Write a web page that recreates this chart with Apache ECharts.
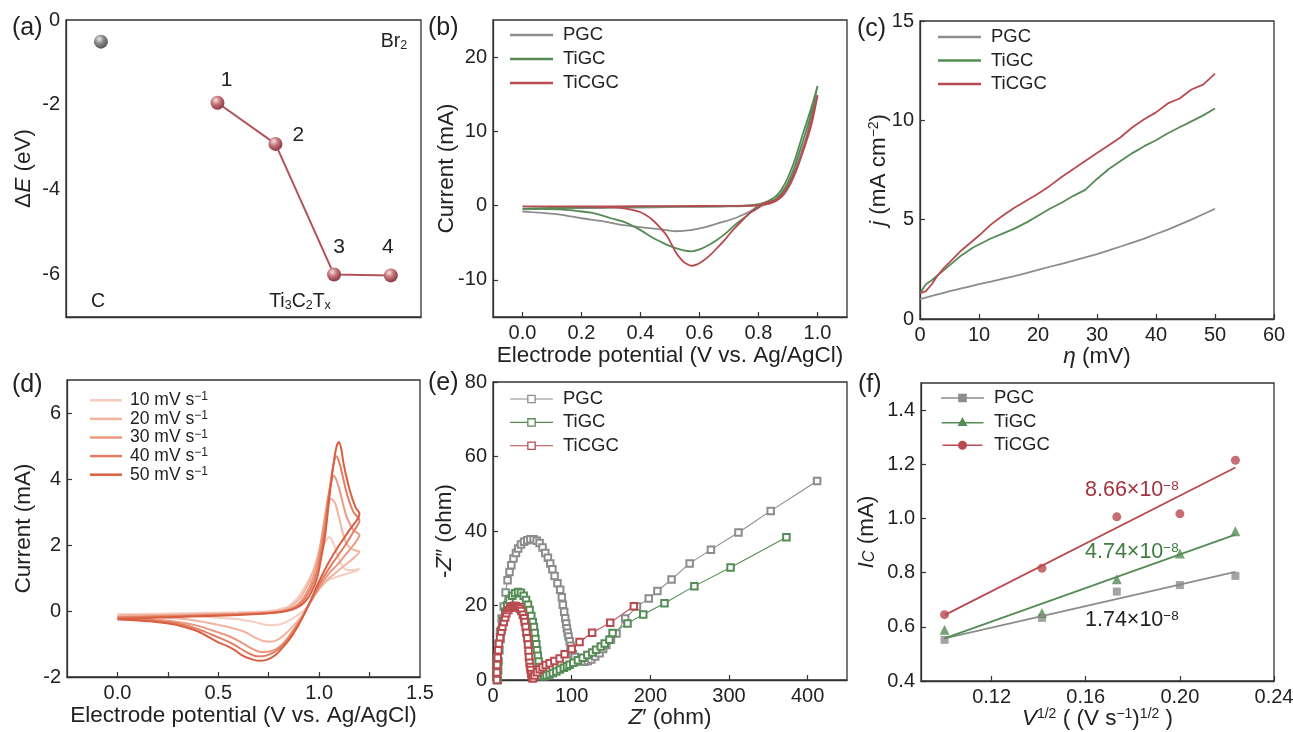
<!DOCTYPE html>
<html><head><meta charset="utf-8">
<script src="https://cdn.jsdelivr.net/npm/echarts@6/dist/echarts.min.js"></script>
<style>html,body{margin:0;padding:0;background:#fff}#c{width:1293px;height:732px}</style>
</head><body><div id="c"></div><script>
// ---------- DATA ----------
// (a) adsorption energies
const aCX = [0.59], aCY = [-0.51];
const aX = [2.56, 3.54, 4.53, 5.49];
const aY = [-1.95, -2.92, -6.0, -6.02];
const aNums = ['1', '2', '3', '4'];
const aYTicks = [0, -2, -4, -6];

// (b) CV curves [E, I]
const bPGC = [[0,-0.5],[0.1,-0.4],[0.2,-0.35],[0.3,-0.3],[0.4,-0.25],[0.5,-0.2],[0.6,-0.15],[0.7,-0.1],[0.75,-0.05],[0.8,0.1],[0.84,0.5],[0.87,1.2],[0.9,2.8],[0.93,5.5],[0.96,9],[0.98,12],[1.0,14.8],
  [0.97,10],[0.94,6],[0.91,3],[0.88,1.2],[0.85,0.5],[0.82,0.1],[0.8,-0.2],[0.76,-1.0],[0.72,-1.7],[0.67,-2.3],[0.62,-2.9],[0.57,-3.3],[0.52,-3.45],[0.47,-3.2],[0.42,-3.0],[0.37,-2.75],[0.33,-2.55],[0.27,-2.1],[0.2,-1.7],[0.127,-1.2],[0.06,-0.95],[0,-0.8]];
const bTiGC = [[0,-0.4],[0.1,-0.3],[0.2,-0.25],[0.3,-0.2],[0.4,-0.15],[0.5,-0.1],[0.6,-0.1],[0.7,-0.05],[0.78,0.05],[0.82,0.4],[0.86,1.3],[0.89,3],[0.92,5.8],[0.95,9.6],[0.98,13.3],[1.0,16.1],
  [0.98,12.5],[0.95,8.6],[0.92,5.0],[0.89,2.4],[0.86,0.9],[0.83,0.3],[0.805,0.1],[0.78,-0.6],[0.76,-1.4],[0.72,-2.6],[0.69,-3.7],[0.66,-4.6],[0.636,-5.2],[0.6,-5.9],[0.573,-6.15],[0.54,-5.95],[0.51,-5.6],[0.47,-4.9],[0.44,-4.3],[0.4,-3.3],[0.35,-2.3],[0.3,-1.7],[0.24,-1.0],[0.18,-0.7],[0.127,-0.5],[0.06,-0.45],[0,-0.4]];
const bTiCGC = [[0,-0.1],[0.2,-0.1],[0.4,-0.08],[0.6,-0.05],[0.75,-0.02],[0.8,0.05],[0.84,0.3],[0.87,0.9],[0.9,2.5],[0.93,5.0],[0.96,8.6],[0.98,11.5],[1.0,14.9],
  [0.98,11],[0.95,7.2],[0.92,4.2],[0.89,2.0],[0.86,0.8],[0.82,0.36],[0.8,-0.3],[0.77,-1.0],[0.745,-2.0],[0.715,-3.2],[0.69,-4.4],[0.66,-5.7],[0.635,-6.7],[0.61,-7.5],[0.59,-7.95],[0.573,-8.1],[0.55,-7.7],[0.535,-7.1],[0.52,-6.3],[0.505,-5.2],[0.49,-4.1],[0.465,-2.9],[0.44,-1.9],[0.415,-1.2],[0.39,-0.75],[0.35,-0.4],[0.3,-0.2],[0.2,-0.12],[0.1,-0.1],[0,-0.1]];
const bXTicks = [0, 0.2, 0.4, 0.6, 0.8, 1.0];
const bYTicks = [-10, 0, 10, 20];

// (c) polarization
const cX = [0,1,2,3,4,5,6,7,8,9,10,12,14,16,18,20,22,24,26,28,30,32,34,36,38,40,42,44,46,48,50];
const cPGC = [1.0,1.08,1.16,1.24,1.32,1.4,1.47,1.54,1.61,1.68,1.75,1.88,2.02,2.16,2.31,2.47,2.63,2.78,2.94,3.1,3.27,3.45,3.65,3.84,4.05,4.28,4.5,4.75,5.0,5.27,5.55];
const cTiGC = [1.3,1.75,1.95,2.2,2.45,2.7,2.95,3.2,3.4,3.6,3.75,4.05,4.3,4.55,4.85,5.2,5.55,5.85,6.2,6.5,7.05,7.55,7.95,8.35,8.7,9.0,9.35,9.65,9.95,10.25,10.6];
const cTiCGC = [1.3,1.4,1.75,2.2,2.55,2.85,3.15,3.45,3.7,3.95,4.2,4.75,5.2,5.6,5.95,6.3,6.7,7.15,7.55,7.95,8.35,8.75,9.15,9.65,10.05,10.4,10.85,11.1,11.55,11.8,12.35];

// (d) CV at scan rates
const dNames = ['10 mV s-1', '20 mV s-1', '30 mV s-1', '40 mV s-1', '50 mV s-1'];
const d10 = [[0,-0.1],[0.1,-0.09],[0.2,-0.08],[0.3,-0.07],[0.4,-0.06],[0.5,-0.05],[0.6,-0.04],[0.7,-0.02],[0.75,0.0],[0.8,0.05],[0.85,0.15],[0.9,0.45],[0.94,0.85],[0.97,1.2],[1.0,1.6],[1.02,1.95],[1.04,2.18],[1.05,2.24],[1.06,2.18],[1.08,1.9],[1.1,1.55],[1.12,1.32],[1.14,1.24],[1.17,1.24],[1.2,1.28],
  [1.18,1.2],[1.15,1.15],[1.12,1.1],[1.08,1.02],[1.05,0.95],[1.02,0.8],[0.99,0.6],[0.96,0.3],[0.93,0.05],[0.9,-0.1],[0.87,-0.22],[0.83,-0.35],[0.8,-0.41],[0.76,-0.43],[0.72,-0.4],[0.68,-0.33],[0.62,-0.27],[0.55,-0.23],[0.45,-0.18],[0.35,-0.15],[0.2,-0.13],[0.1,-0.12],[0,-0.11]];
const d20 = [[0,-0.14],[0.2,-0.12],[0.4,-0.1],[0.6,-0.07],[0.75,-0.03],[0.8,0.0],[0.85,0.1],[0.9,0.35],[0.94,0.75],[0.97,1.2],[1.0,1.85],[1.02,2.5],[1.04,3.1],[1.06,3.4],[1.08,3.25],[1.1,2.8],[1.12,2.3],[1.14,2.0],[1.17,1.85],[1.2,1.8],
  [1.17,1.6],[1.13,1.4],[1.09,1.2],[1.05,1.0],[1.01,0.75],[0.98,0.5],[0.95,0.2],[0.92,-0.1],[0.88,-0.4],[0.84,-0.65],[0.8,-0.85],[0.76,-0.93],[0.72,-0.9],[0.68,-0.8],[0.63,-0.63],[0.56,-0.5],[0.5,-0.42],[0.4,-0.3],[0.3,-0.23],[0.2,-0.2],[0.1,-0.17],[0,-0.16]];
const d30 = [[0,-0.18],[0.2,-0.15],[0.4,-0.12],[0.6,-0.09],[0.75,-0.05],[0.82,0.0],[0.87,0.1],[0.91,0.3],[0.95,0.7],[0.98,1.2],[1.0,1.7],[1.02,2.5],[1.04,3.3],[1.06,3.9],[1.07,4.1],[1.08,4.05],[1.1,3.7],[1.12,3.2],[1.14,2.8],[1.17,2.45],[1.2,2.3],
  [1.17,2.0],[1.13,1.7],[1.09,1.4],[1.05,1.15],[1.01,0.8],[0.98,0.5],[0.95,0.2],[0.92,-0.15],[0.88,-0.5],[0.84,-0.85],[0.8,-1.1],[0.76,-1.22],[0.71,-1.24],[0.67,-1.15],[0.62,-0.97],[0.56,-0.78],[0.5,-0.65],[0.4,-0.45],[0.3,-0.33],[0.2,-0.27],[0.1,-0.23],[0,-0.21]];
const d40 = [[0,-0.2],[0.2,-0.17],[0.4,-0.14],[0.6,-0.1],[0.75,-0.06],[0.83,0.0],[0.88,0.1],[0.92,0.3],[0.96,0.7],[0.99,1.2],[1.01,1.8],[1.03,2.6],[1.05,3.6],[1.07,4.4],[1.085,4.69],[1.1,4.5],[1.12,4.0],[1.14,3.5],[1.17,3.0],[1.2,2.75],
  [1.17,2.4],[1.13,2.0],[1.09,1.65],[1.05,1.3],[1.01,0.9],[0.98,0.55],[0.95,0.2],[0.92,-0.15],[0.88,-0.55],[0.84,-0.9],[0.8,-1.15],[0.76,-1.3],[0.72,-1.37],[0.69,-1.37],[0.65,-1.28],[0.6,-1.1],[0.55,-0.93],[0.5,-0.8],[0.4,-0.55],[0.3,-0.38],[0.2,-0.3],[0.1,-0.26],[0,-0.23]];
const d50 = [[0,-0.24],[0.2,-0.2],[0.4,-0.16],[0.6,-0.12],[0.75,-0.07],[0.84,0.0],[0.89,0.1],[0.93,0.28],[0.96,0.55],[0.99,1.0],[1.01,1.6],[1.03,2.3],[1.05,3.4],[1.07,4.4],[1.085,4.95],[1.098,5.12],[1.11,4.9],[1.12,4.5],[1.15,3.7],[1.18,3.15],[1.2,2.95],
  [1.15,2.45],[1.1,2.0],[1.05,1.5],[1.0,0.9],[0.96,0.35],[0.93,-0.05],[0.9,-0.4],[0.86,-0.8],[0.82,-1.1],[0.78,-1.35],[0.74,-1.48],[0.7,-1.51],[0.66,-1.45],[0.62,-1.35],[0.58,-1.18],[0.54,-1.05],[0.5,-0.95],[0.4,-0.62],[0.3,-0.43],[0.2,-0.34],[0.1,-0.29],[0,-0.26]];
const dXLabels = [0, 0.5, 1.0, 1.5];
const dXTicks = [0, 0.25, 0.5, 0.75, 1.0, 1.25];
const dYTicks = [-2, 0, 2, 4, 6];

// (e) Nyquist [Z', -Z'']
const ePGC = [[5,0],[5.5,3],[6,6],[7,9.5],[9,13],[11,16.5],[13.6,19.7],[16,23.5],[18.5,26.8],[21,29],[23.3,30.8],[26,32.6],[29.2,34.1],[32,35.3],[35.6,36.4],[39.5,37.1],[43.6,37.5],[47.5,37.8],[51.6,37.8],[55.5,37.4],[59.2,36.8],[63,35.6],[66.5,34.1],[69.8,32.8],[72.8,31.3],[75.5,29.7],[78.3,27.9],[82,26],[85.4,24.2],[87.5,22.2],[88.8,20.2],[90.5,18.3],[91.8,16.6],[93,15.2],[93.9,13.9],[95,12.7],[96,11.7],[97.5,10.4],[98.6,9.2],[100,8.1],[101.6,7.0],[104,6.2],[108,5.1],[112,4.9],[116.4,4.9],[120.5,5.1],[125,5.5],[130,6.3],[135.5,7.2],[140,8.3],[144,9.4],[150,10.9],[157,12.5],[168,16.5],[183,19.7],[198,21.9],[209,23.9],[227,27],[250,31.3],[277,35],[312,39.6],[353,45.4],[412,53.4]];
const eTiGC = [[6,0],[6.5,2.5],[7,5],[8,8],[9.5,11],[11,13.5],[13,16],[15.5,18.3],[18,20],[21,21.5],[24.5,22.6],[28,23.3],[31.8,23.6],[35.5,23.4],[39,22.6],[42,21.5],[44.5,20.2],[46.5,18.8],[48.7,17.2],[50.5,15.6],[52,14.2],[53,12.6],[54,11],[55,9.6],[56,8],[57,6.5],[58,5],[58.8,3.5],[59.5,2.3],[60.2,1.5],[62,1.0],[65,1.0],[68,1.2],[72,1.5],[76,1.9],[80.5,2.3],[85,2.8],[90,3.3],[94,3.7],[97.4,4.1],[102,4.6],[108,5.3],[114,6.0],[120,6.7],[126,7.4],[131,8.1],[137,9.0],[142,9.8],[148,10.8],[152,12.6],[171,15.2],[191,17.6],[218,20.6],[256,25.2],[302,30.2],[373,38.3]];
const eTiCGC = [[5,0],[5,2],[5.3,4],[6,6],[6.8,8],[7.6,9.8],[9,11.5],[10.5,13],[11.9,14.3],[13.8,15.6],[15.5,16.8],[17,17.9],[19.5,18.8],[22,19.4],[24.6,19.8],[27,19.9],[29.5,19.8],[32,19.5],[34,19.1],[36,18.5],[38,17.5],[39.5,16.6],[40.3,15.6],[41.5,14.2],[42.5,12.7],[43.7,11.2],[44.5,9.5],[45.2,7.8],[45.7,6.2],[46.5,4.6],[47.2,3.5],[47.9,2.7],[48.7,1.6],[49.5,0.9],[50,0.5],[51,0.5],[53,1.2],[56,2.1],[59.3,2.9],[63,3.4],[67,4.0],[72,4.5],[78,5.1],[84.7,5.8],[91,6.9],[100,8.3],[110,10.2],[126,12.7],[149,15.4],[179,19.8]];
const eXLabels = [0, 100, 200, 300, 400];

// (f) double-layer current vs sqrt(scan rate)
const fX = [0.1, 0.1414, 0.1732, 0.2, 0.2236];
const fPGC = [0.552, 0.633, 0.730, 0.754, 0.788];
const fTiGC = [0.589, 0.651, 0.776, 0.871, 0.953];
const fTiCGC = [0.645, 0.816, 1.006, 1.017, 1.215];
const fFitX = [0.1, 0.2236];
const fFitPGC = [0.557, 0.803];
const fFitTiGC = [0.557, 0.940];
const fFitTiCGC = [0.643, 1.188];
const fSlopes = ['8.66×10', '4.74×10', '1.74×10'];
const fXTicks = [0.12, 0.16, 0.20, 0.24];
const fYTicks = [0.4, 0.6, 0.8, 1.0, 1.2, 1.4];

// ---------- STYLE ----------
const FONT = '"Liberation Sans", Arial, Helvetica, sans-serif';
const GRAY = '#8c8c8c', GREEN = '#558c55', RED = '#b84b50';
const DCOL = ['#f5cdbf', '#f0b49f', '#ea9a81', '#e27e62', '#d95f42'];
const TXT = '#222';
const NAMESIZE = 22.5;
const RICH = {
  i: {fontStyle: 'italic', fontSize: NAMESIZE, fontFamily: FONT, color: TXT},
  ic: {fontStyle: 'italic', fontSize: 16, fontFamily: FONT, color: TXT, verticalAlign: 'bottom', lineHeight: 21},
  sup: {fontSize: 14, fontFamily: FONT, color: TXT, verticalAlign: 'top', lineHeight: 14}
};
const LRICH = {sup: {fontSize: 12, fontFamily: FONT, color: TXT, verticalAlign: 'top', lineHeight: 12}};
const grids = [
  {left: 66, top: 20, width: 355, height: 297},
  {left: 493, top: 20, width: 354, height: 297},
  {left: 920, top: 21, width: 354, height: 298},
  {left: 67, top: 380, width: 353, height: 297},
  {left: 493, top: 382, width: 354, height: 298},
  {left: 921, top: 383, width: 353, height: 298}
].map(g => Object.assign({show: true, borderColor: '#333', borderWidth: 1.3, outerBoundsMode: 'none', containLabel: false}, g));

function axis(o) {
  const a = {
    type: 'value', gridIndex: o.g, min: o.min, max: o.max, scale: true,
    splitLine: {show: false},
    axisLine: {show: true, onZero: false, lineStyle: {color: '#333', width: 1.3}},
    axisTick: {show: o.ticks !== false, inside: true, length: 5, lineStyle: {color: '#333', width: 1.2}},
    axisLabel: {show: o.labels !== false, color: TXT, fontSize: 20, fontFamily: FONT, margin: 6, hideOverlap: false,
      showMinLabel: true, showMaxLabel: true},
    name: o.name || '', nameLocation: 'middle', nameGap: o.gap || 28, nameMoveOverlap: false,
    nameTextStyle: {color: TXT, fontSize: NAMESIZE, fontFamily: FONT, rich: RICH}
  };
  if (o.interval) a.interval = o.interval;
  if (o.labelVals) a.axisLabel.customValues = o.labelVals;
  if (o.tickVals) a.axisTick.customValues = o.tickVals;
  if (o.fmt) a.axisLabel.formatter = o.fmt;
  return a;
}
const f1 = v => Number(v).toFixed(1), f2 = v => Number(v).toFixed(2);

const xAxes = [
  axis({g: 0, min: 0, max: 6, labels: false, ticks: false}),
  axis({g: 1, min: -0.1, max: 1.1, labelVals: bXTicks, tickVals: bXTicks, fmt: f1, name: 'Electrode potential (V vs. Ag/AgCl)', gap: 27}),
  axis({g: 2, min: 0, max: 60, interval: 10, name: '{i|η} (mV)', gap: 26}),
  axis({g: 3, min: -0.25, max: 1.5, labelVals: dXLabels, tickVals: dXTicks, fmt: f1, name: 'Electrode potential (V vs. Ag/AgCl)', gap: 27}),
  axis({g: 4, min: 0, max: 450, labelVals: eXLabels, tickVals: eXLabels, name: '{i|Z}′ (ohm)', gap: 26}),
  axis({g: 5, min: 0.09, max: 0.24, labelVals: fXTicks, tickVals: fXTicks, fmt: f2, name: '{i|V}{sup|1/2} ( (V s{sup|−1}){sup|1/2} )', gap: 26})
];
const yAxes = [
  axis({g: 0, min: -7, max: 0, labelVals: aYTicks, ticks: false, name: 'Δ{i|E} (eV)', gap: 31}),
  axis({g: 1, min: -15, max: 25, labelVals: bYTicks, tickVals: bYTicks, name: 'Current (mA)', gap: 35}),
  axis({g: 2, min: 0, max: 15, interval: 5, name: '{i|j} (mA cm{sup|−2})', gap: 30}),
  axis({g: 3, min: -2, max: 7, labelVals: dYTicks, tickVals: dYTicks, name: 'Current (mA)', gap: 32}),
  axis({g: 4, min: 0, max: 80, interval: 20, name: '-{i|Z}″ (ohm)', gap: 37}),
  axis({g: 5, min: 0.4, max: 1.5, labelVals: fYTicks, tickVals: fYTicks, fmt: f1, name: '{i|I}{ic|C} (mA)', gap: 43})
];

const ZW = '\u200b';
const pair = (xs, ys) => xs.map((x, i) => [x, ys[i]]);
const lineS = (name, idx, data, color, w, extra) => Object.assign({
  type: 'line', name, xAxisIndex: idx, yAxisIndex: idx, data, symbol: 'none', smooth: false,
  lineStyle: {color, width: w}, itemStyle: {color}, silent: true, animation: false, clip: true
}, extra || {});

const redBall = {type: 'radial', x: 0.38, y: 0.32, r: 0.7, colorStops: [
  {offset: 0, color: '#f7e3e3'}, {offset: 0.45, color: '#c4747a'}, {offset: 1, color: '#873640'}]};
const grayBall = {type: 'radial', x: 0.38, y: 0.32, r: 0.7, colorStops: [
  {offset: 0, color: '#e6e6e6'}, {offset: 0.45, color: '#6e6e6e'}, {offset: 1, color: '#2a2a2a'}]};
const aLabelOffsets = [[9, -23], [23, -9], [5, -27], [-3, -28]];

const series = [
  // (a)
  {type: 'line', name: 'aTi', xAxisIndex: 0, yAxisIndex: 0, animation: false, silent: true,
   data: aX.map((x, i) => ({value: [x, aY[i]], label: {offset: aLabelOffsets[i]}})),
   symbol: 'circle', symbolSize: 14, lineStyle: {color: '#b0545a', width: 2}, itemStyle: {color: redBall},
   label: {show: true, position: 'inside', formatter: p => aNums[p.dataIndex], fontSize: 21, color: TXT, fontFamily: FONT}},
  {type: 'scatter', name: 'aC', xAxisIndex: 0, yAxisIndex: 0, animation: false, silent: true,
   data: pair(aCX, aCY), symbol: 'circle', symbolSize: 14, itemStyle: {color: grayBall}},
  // (b)
  lineS('PGC', 1, bPGC, GRAY, 1.8, {smooth: 0.3}),
  lineS('TiGC', 1, bTiGC, GREEN, 1.8, {smooth: 0.3}),
  lineS('TiCGC', 1, bTiCGC, RED, 1.8, {smooth: 0.3}),
  // (c)
  lineS('PGC' + ZW, 2, pair(cX, cPGC), GRAY, 1.8),
  lineS('TiGC' + ZW, 2, pair(cX, cTiGC), GREEN, 1.8),
  lineS('TiCGC' + ZW, 2, pair(cX, cTiCGC), RED, 1.8),
  // (d)
  ...[d10, d20, d30, d40, d50].map((d, i) => lineS(dNames[i], 3, d, DCOL[i], 2, {smooth: 0.3})),
  // (e)
  ...[[ePGC, GRAY, 'PGC'], [eTiGC, GREEN, 'TiGC'], [eTiCGC, RED, 'TiCGC']].map(([d, c, n]) =>
    lineS(n + ZW + ZW, 4, d, c, 1.1, {symbol: 'emptyRect', symbolSize: 6.5, showSymbol: true,
      itemStyle: {color: c, borderColor: c, borderWidth: 1}})),
  // (f) fit lines
  lineS('PGC' + ZW + ZW + ZW, 5, pair(fFitX, fFitPGC), GRAY, 1.8),
  lineS('TiGC' + ZW + ZW + ZW, 5, pair(fFitX, fFitTiGC), GREEN, 1.8),
  lineS('TiCGC' + ZW + ZW + ZW, 5, pair(fFitX, fFitTiCGC), RED, 1.8),
  // (f) points
  {type: 'scatter', name: 'fp1', xAxisIndex: 5, yAxisIndex: 5, data: pair(fX, fPGC), symbol: 'rect', symbolSize: 8, itemStyle: {color: GRAY}, animation: false, silent: true},
  {type: 'scatter', name: 'fp2', xAxisIndex: 5, yAxisIndex: 5, data: pair(fX, fTiGC), symbol: 'triangle', symbolSize: 10, itemStyle: {color: GREEN}, animation: false, silent: true},
  {type: 'scatter', name: 'fp3', xAxisIndex: 5, yAxisIndex: 5, data: pair(fX, fTiCGC), symbol: 'circle', symbolSize: 9, itemStyle: {color: RED}, animation: false, silent: true}
];

const strip = n => n.replace(/\u200b/g, '');
const legBase = (left, top, gap) => ({
  orient: 'vertical', left, top, itemGap: gap, itemWidth: 43, itemHeight: 2.5, align: 'left', padding: 0,
  selectedMode: false, icon: 'rect', animation: false,
  textStyle: {fontSize: 18.5, fontFamily: FONT, color: TXT, padding: [0, 0, 0, 5], lineHeight: 20, rich: LRICH},
  formatter: strip
});
const eIcon = 'path://M0,4 h16 v1 h-16 z M16,0.5 h8 v8 h-8 z M17.2,1.7 v5.6 h5.6 v-5.6 z M24,4 h16 v1 h-16 z';
const fIcons = [
  'path://M0,4.2 h40 v1.6 h-40 z M16,1 h8 v8 h-8 z',
  'path://M0,5.6 h40 v1.6 h-40 z M15.3,9.6 L20,1 L24.7,9.6 z',
  'path://M0,4.2 h40 v1.6 h-40 z M24.5,5 A4.5,4.5 0 1 1 15.5,5 A4.5,4.5 0 1 1 24.5,5 z'
];
const legends = [
  Object.assign(legBase(510, 25, 4), {data: ['PGC', 'TiGC', 'TiCGC']}),
  Object.assign(legBase(938, 27, 3.5), {data: ['PGC' + ZW, 'TiGC' + ZW, 'TiCGC' + ZW]}),
  Object.assign(legBase(90, 391, 0), {itemWidth: 32, data: dNames,
    textStyle: {fontSize: 17.5, fontFamily: FONT, color: TXT, padding: [0, 0, 0, 3], lineHeight: 18.6, rich: LRICH},
    formatter: n => n.replace(' s-1', ' s') + '{sup|−1}'}),
  Object.assign(legBase(510, 389, 3.4), {itemHeight: 9, data: [['PGC', GRAY], ['TiGC', GREEN], ['TiCGC', RED]].map(([n, c]) => ({name: n + ZW + ZW, icon: eIcon, itemStyle: {color: c, borderWidth: 0}}))}),
  Object.assign(legBase(941, 388, 3.6), {itemHeight: 9, data: [['PGC', GRAY], ['TiGC', GREEN], ['TiCGC', RED]].map(([n, c], i) => ({name: n + ZW + ZW + ZW, icon: fIcons[i], itemStyle: {color: c, borderWidth: 0}}))})
];

const T = (x, y, text, o) => ({type: 'text', x, y, silent: true, style: Object.assign({text, fill: TXT, fontSize: 25, fontFamily: FONT, align: 'left', verticalAlign: 'middle'}, o || {})});
const SUB = {s: {fontSize: 12.5, fontFamily: FONT, fill: TXT, verticalAlign: 'bottom', lineHeight: 18}};
const SUPA = {sup: {fontSize: 13.5, fontFamily: FONT, verticalAlign: 'top', lineHeight: 13.5}};
const graphics = [
  T(12, 28, '(a)'), T(428, 28, '(b)'), T(857, 29, '(c)'),
  T(12, 385, '(d)'), T(428, 383, '(e)'), T(858, 385, '(f)'),
  T(98, 302, 'C', {fontSize: 19.5, align: 'center'}),
  T(300, 302, 'Ti{s|3}C{s|2}T{s|x}', {fontSize: 19.5, align: 'center', rich: SUB}),
  T(394, 42, 'Br{s|2}', {fontSize: 19.5, align: 'center', rich: SUB}),
  T(1085, 490, fSlopes[0] + '{sup|−8}', {fontSize: 21.5, fill: '#a3333f', rich: {sup: Object.assign({}, SUPA.sup, {fill: '#a3333f'})}}),
  T(1085, 552, fSlopes[1] + '{sup|−8}', {fontSize: 21.5, fill: '#3f7d3f', rich: {sup: Object.assign({}, SUPA.sup, {fill: '#3f7d3f'})}}),
  T(1085, 620, fSlopes[2] + '{sup|−8}', {fontSize: 21.5, fill: TXT, rich: {sup: Object.assign({}, SUPA.sup, {fill: TXT})}})
];

const chart = echarts.init(document.getElementById('c'), null, {renderer: 'canvas'});
chart.setOption({
  backgroundColor: '#fff', animation: false,
  grid: grids, xAxis: xAxes, yAxis: yAxes, series, legend: legends, graphic: graphics
});
</script></body></html>
